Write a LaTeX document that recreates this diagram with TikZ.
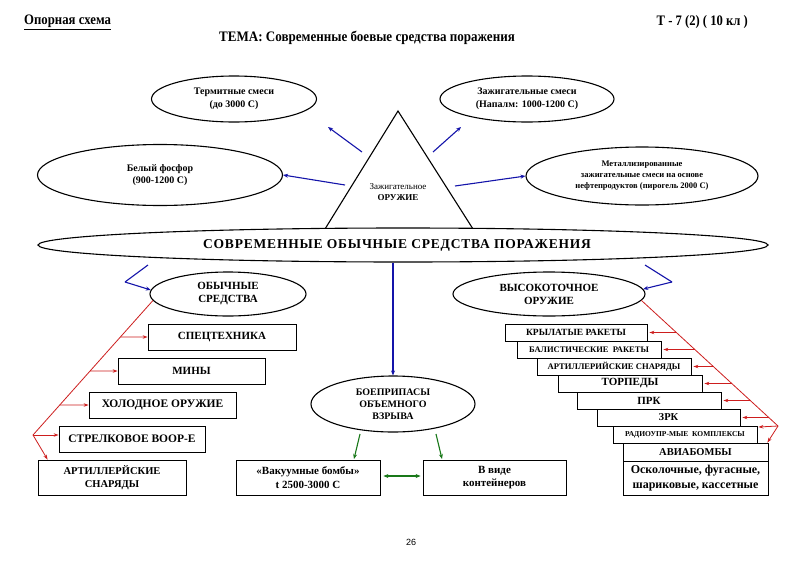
\documentclass[tikz,border=0pt]{standalone}
\usepackage{fontspec}
\setmainfont{Liberation Serif}
\newfontfamily\pgsans{Liberation Sans}
\usetikzlibrary{shapes.geometric,arrows.meta,calc,shadows}
\definecolor{cblue}{RGB}{20,20,170}
\definecolor{cred}{RGB}{205,30,30}
\definecolor{cgreen}{RGB}{25,120,25}
\newcommand{\fs}[2]{\bfseries\fontsize{#1}{#2}\selectfont}
\begin{document}
\begin{tikzpicture}[x=1pt,y=-1pt,
  ell/.style={ellipse,draw=black,line width=1.1pt,fill=white,inner sep=0pt,align=center,font=\bfseries},
  bx/.style={rectangle,draw=black,line width=0.8pt,fill=white,inner sep=0pt,align=center,font=\bfseries,
     drop shadow={shadow xshift=1.3pt,shadow yshift=-1.3pt,fill=black!55,opacity=1}},
  barrow/.style={draw=cblue,line width=1.1pt,-{Stealth[length=5pt,width=4pt]}},
  bline/.style={draw=cblue,line width=1.1pt},
  rarrow/.style={draw=cred,line width=0.8pt,-{Stealth[length=5pt,width=3.5pt]}},
  rline/.style={draw=cred,line width=0.8pt},
  garrow/.style={draw=cgreen,line width=1.1pt,-{Stealth[length=5pt,width=4pt]}},
  gdarrow/.style={draw=cgreen,line width=1.1pt,{Stealth[length=5pt,width=4pt]}-{Stealth[length=5pt,width=4pt]}},
  lbl/.style={inner sep=0pt,font=\bfseries}
]
\path[fill=white] (0,0) rectangle (800,565);
\useasboundingbox (0,0) rectangle (800,565);

% headers
\node[lbl,anchor=west,font=\fs{14.5}{16}] (hl) at (24,22) {\scalebox{0.88}[1]{\underline{Опорная схема}}};
\node[lbl,anchor=east,font=\fs{14.5}{16}] (hr) at (748,22) {\scalebox{0.87}[1]{Т - 7 (2) ( 10 кл )}};
\node[lbl,font=\fs{14.5}{16}] (title) at (367,38) {\scalebox{0.9}[1]{ТЕМА: Современные боевые средства поражения}};

% triangle
\coordinate (tapex) at (398,111);
\coordinate (tbl) at (325,229);
\coordinate (tbr) at (473,229);
\draw[line width=1.1pt,fill=white] (tapex) -- (tbl) -- (tbr) -- cycle;
\node[lbl,align=center,font=\fs{9}{11.5}] (zo) at (398,192) {\textmd{Зажигательное}\\ОРУЖИЕ};

% top ellipses
\node[ell,minimum width=165pt,minimum height=46pt,font=\fs{10}{12.5}] (term) at (234,99) {Термитные смеси\\(до 3000 С)};
\node[ell,minimum width=174pt,minimum height=46pt,font=\fs{10}{12.5}] (zaj) at (527,99) {Зажигательные смеси\\(Напалм: 1000-1200 С)};
\node[ell,minimum width=245pt,minimum height=61pt,font=\fs{10}{12.5}] (fos) at (160,175) {Белый фосфор\\(900-1200 С)};
\node[ell,minimum width=232pt,minimum height=58pt,font=\fs{8.5}{11}] (met) at (642,176) {Металлизированные\\зажигательные смеси на основе\\нефтепродуктов (пирогель 2000 С)};

\coordinate (s1) at (362,152);
\coordinate (s2) at (433,152);
\coordinate (s3) at (345,185);
\coordinate (s4) at (455,186);
\coordinate (e1) at (328,127);
\coordinate (e2) at (461,127);
\draw[barrow] (s1) -- (e1);
\draw[barrow] (s2) -- (e2);
\draw[barrow] (s3) -- (fos.east);
\draw[barrow] (s4) -- (met.west);

% main ellipse
\node[ell,minimum width=730pt,minimum height=34pt,font=\fs{13.5}{15}] (main) at (403,245) {\addfontfeature{LetterSpace=6}СОВРЕМЕННЫЕ ОБЫЧНЫЕ СРЕДСТВА ПОРАЖЕНИЯ\hspace*{12pt}};

% second level ellipses
\node[ell,minimum width=156pt,minimum height=44pt,font=\fs{11}{13}] (ob) at (228,294) {ОБЫЧНЫЕ\\СРЕДСТВА};
\node[ell,minimum width=192pt,minimum height=44pt,font=\fs{11}{13}] (vo) at (549,294) {ВЫСОКОТОЧНОЕ\\ОРУЖИЕ};
\node[ell,minimum width=164pt,minimum height=56pt,font=\fs{10}{12}] (bov) at (393,404) {БОЕПРИПАСЫ\\ОБЪЕМНОГО\\ВЗРЫВА};

\coordinate (bl1) at (148,265);
\coordinate (bl2) at (125,282);
\coordinate (br1) at (645,265);
\coordinate (br2) at (672,282);
\draw[bline] (bl1) -- (bl2);
\draw[barrow] (bl2) -- (ob.177);
\draw[bline] (br1) -- (br2);
\draw[barrow] (br2) -- (vo.3);
\draw[barrow] (bov.north |- main.south) -- (bov.north);

% left boxes
\node[bx,minimum width=148pt,minimum height=26pt,font=\fs{11}{13}] (spec) at (222,337) {СПЕЦТЕХНИКА};
\node[bx,minimum width=147pt,minimum height=26pt,font=\fs{11}{13}] (mini) at (191.5,371) {МИНЫ};
\node[bx,minimum width=147pt,minimum height=26pt,font=\fs{11.5}{13}] (hol) at (162.5,405) {ХОЛОДНОЕ ОРУЖИЕ};
\node[bx,minimum width=146pt,minimum height=26pt,font=\fs{11.5}{13}] (strk) at (132,439) {СТРЕЛКОВОЕ ВООР-Е};
\node[bx,minimum width=148pt,minimum height=35pt,font=\fs{10.5}{13}] (artl) at (112,477.5) {АРТИЛЛЕРЙСКИЕ\\СНАРЯДЫ};

\coordinate (lb) at (33,435);
\draw[rline] (ob.185) -- (lb);
\foreach \b in {spec,mini,hol}{
  \draw[rarrow] (intersection of ob.185--lb and \b.west--\b.east) -- (\b.west);
}
\draw[rarrow] (lb) -- (lb -| strk.west);
\draw[rarrow] (lb) -- ($(artl.north west)+(10,0)$);

% centre bottom boxes
\node[bx,minimum width=144pt,minimum height=35pt,font=\fs{11}{13.5}] (vac) at (308,477.5) {«Вакуумные бомбы»\\t 2500-3000 С};
\node[bx,minimum width=143pt,minimum height=35pt,font=\fs{11}{13.5}] (kont) at (494.5,477.5) {В виде\\контейнеров};
\coordinate (g1) at (360,434);
\coordinate (g2) at (436,434);
\coordinate (g1e) at (354,459);
\coordinate (g2e) at (442,459);
\draw[garrow] (g1) -- (g1e);
\draw[garrow] (g2) -- (g2e);
\draw[gdarrow] ($(vac.east)+(3,-1.5)$) -- ($(kont.west)+(-2,-1.5)$);

% right boxes
\node[bx,minimum width=142pt,minimum height=17pt,font=\fs{9.5}{10}] (kr) at (576,332.5) {КРЫЛАТЫЕ РАКЕТЫ};
\node[bx,minimum width=144pt,minimum height=17pt,font=\fs{8.5}{10}] (bal) at (589,349.5) {БАЛИСТИЧЕСКИЕ \ РАКЕТЫ};
\node[bx,minimum width=154pt,minimum height=17pt,font=\fs{8.6}{10}] (artr) at (614,366.5) {АРТИЛЛЕРИЙСКИЕ СНАРЯДЫ};
\node[bx,minimum width=144pt,minimum height=17pt,font=\fs{11}{10}] (tor) at (630,383.5) {ТОРПЕДЫ};
\node[bx,minimum width=144pt,minimum height=17pt,font=\fs{11}{10}] (prk) at (649,400.5) {ПРК};
\node[bx,minimum width=143pt,minimum height=17pt,font=\fs{10.5}{10}] (zrk) at (668.5,417.5) {ЗРК};
\node[bx,minimum width=144pt,minimum height=17pt,font=\fs{7.5}{10}] (rad) at (685,434.5) {РАДИОУПР-МЫЕ \ КОМПЛЕКСЫ};
\node[bx,minimum width=145pt,minimum height=18pt,font=\fs{10.5}{10}] (avia) at (695.5,452) {АВИАБОМБЫ};
\node[bx,minimum width=145pt,minimum height=34pt,font=\fs{12}{14.5}] (osk) at (695.5,478) {Осколочные, фугасные,\\шариковые, кассетные};

\coordinate (rb) at (778,426);
\draw[rline] (vo.-4) -- (rb);
\foreach \b in {kr,bal,artr,tor,prk,zrk}{
  \draw[rarrow] (intersection of vo.-4--rb and \b.east--\b.west) -- ($(\b.east)+(2,0)$);
}
\draw[rarrow] (rb) -- ($(rb -| rad.east)+(1,1)$);
\draw[rarrow] (rb) -- ($(avia.north east)+(-1,0)$);

% page number
\node[inner sep=0pt,font=\pgsans\fontsize{9}{10}\selectfont] (pg) at (411,542) {26};
\end{tikzpicture}
\end{document}
